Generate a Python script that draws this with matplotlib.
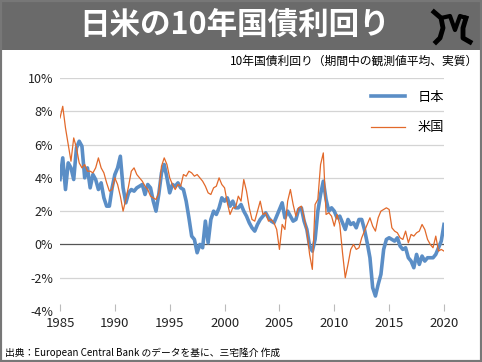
import numpy as np
import matplotlib
matplotlib.use('Agg')
import matplotlib.pyplot as plt
from matplotlib.patches import Rectangle

plt.rcParams['font.family'] = ['Noto Sans CJK JP', 'DejaVu Sans']

# 四半期ごとの読み取り値 (1985Q1〜2020Q1)
years = 1985 + np.arange(141) / 4

japan = [3.9, 5.2, 3.3, 4.9, 4.6, 3.9, 5.8, 6.2, 5.9, 4.0, 4.6, 3.4,
         4.2, 3.9, 3.3, 3.7, 2.8, 2.3, 2.3, 3.4, 4.2, 4.6, 5.3, 3.4,
         2.5, 3.1, 3.3, 3.2, 3.4, 3.5, 3.6, 3.0, 3.6, 3.4, 2.6, 2.0,
         3.0, 4.3, 4.8, 4.0, 3.1, 3.6, 3.5, 3.7, 3.4, 3.3, 2.6, 1.6,
         0.5, 0.3, -0.5, 0.0, -0.2, 1.4, 0.1, 1.5, 2.0, 1.8, 2.2, 2.8,
         2.6, 2.8, 2.3, 2.6, 2.2, 2.2, 2.4, 2.0, 1.7, 1.3, 1.0, 0.8,
         1.2, 1.5, 1.7, 1.9, 1.6, 1.4, 1.3, 1.7, 2.1, 2.5, 1.6, 2.0,
         1.7, 1.4, 1.5, 2.1, 2.2, 1.4, 0.9, -0.1, -0.4, 0.3, 2.0, 3.0,
         3.8, 2.7, 2.0, 2.2, 2.0, 1.6, 1.7, 1.3, 0.9, 1.5, 1.2, 1.3,
         1.0, 1.5, 1.5, 0.9, 0.1, -0.8, -2.6, -3.1, -2.4, -1.8, -0.3, 0.3,
         0.4, 0.3, 0.2, 0.4, -0.1, -0.3, -0.2, -0.8, -1.0, -1.4, -0.6, -1.2,
         -0.7, -1.0, -0.8, -0.8, -0.8, -0.6, -0.2, 0.2, 1.2]

usa = [7.6, 8.3, 7.0, 6.0, 5.0, 6.4, 5.8, 4.9, 4.6, 4.8, 4.4, 4.4,
       4.3, 4.6, 5.2, 4.6, 4.3, 3.7, 3.2, 3.3, 4.0, 3.6, 2.9, 2.0,
       2.7, 3.5, 4.4, 4.6, 4.2, 4.0, 3.8, 3.5, 3.3, 2.9, 2.8, 2.7,
       3.1, 4.7, 5.2, 4.8, 4.0, 3.6, 3.3, 3.6, 3.5, 4.2, 4.1, 4.4,
       4.3, 4.1, 4.2, 4.0, 3.8, 3.5, 3.1, 3.0, 3.4, 3.5, 4.0, 3.6,
       3.4, 2.5, 1.8, 2.2, 2.2, 2.9, 2.6, 3.9, 3.2, 2.2, 1.5, 1.4,
       2.0, 2.6, 1.8, 1.9, 1.4, 1.5, 1.3, 0.9, -0.3, 1.2, 0.9, 2.6,
       3.3, 2.4, 1.7, 2.2, 2.3, 1.6, 0.8, -0.6, -1.5, 2.4, 2.7, 4.8,
       5.5, 1.8, 1.9, 1.7, 1.1, 1.8, 1.2, -0.5, -2.0, -1.2, -0.3, 0.0,
       -0.3, -0.2, 0.4, 0.8, 1.2, 1.6, 1.1, 0.8, 1.6, 2.0, 2.1, 2.2,
       2.1, 1.0, 0.8, 0.7, 0.4, 0.3, 0.8, 0.1, 0.6, 0.5, 0.7, 0.8,
       1.2, 0.9, 0.3, 0.0, -0.2, 0.5, -0.4, -0.3, -0.4]

xticks = [1985, 1990, 1995, 2000, 2005, 2010, 2015, 2020]
yticks = [-4, -2, 0, 2, 4, 6, 8, 10]

W, H = 482, 362
fig = plt.figure(figsize=(W / 100, H / 100), dpi=100)

# タイトル帯
fig.patches.append(Rectangle((0, 1 - 50 / H), 1, 50 / H, transform=fig.transFigure,
                             facecolor='#6a6a6a', edgecolor='none', zorder=0))
fig.text(235 / W, 1 - 25 / H, '日米の10年国債利回り', color='white', fontsize=22,
         fontweight='bold', ha='center', va='center')
# ロゴ (簡易)
lx = lambda v: v / W
ly = lambda v: 1 - v / H
fig.lines.append(plt.Line2D([lx(434), lx(441), lx(443), lx(440), lx(436)],
                            [ly(12), ly(18), ly(28), ly(38), ly(42)],
                            transform=fig.transFigure, color='black', lw=3.5))
fig.lines.append(plt.Line2D([lx(441), lx(450), lx(455), lx(460), lx(466)],
                            [ly(18), ly(16), ly(30), ly(16), ly(18)],
                            transform=fig.transFigure, color='black', lw=3))
fig.lines.append(plt.Line2D([lx(466), lx(463), lx(463), lx(470)],
                            [ly(18), ly(28), ly(38), ly(42)],
                            transform=fig.transFigure, color='black', lw=3.5))

fig.text(478 / W, 1 - 61 / H, '10年国債利回り（期間中の観測値平均、実質）',
         fontsize=8.5, ha='right', va='center')
fig.text(5 / W, 1 - 353 / H, '出典：European Central Bank のデータを基に、三宅隆介 作成',
         fontsize=7, ha='left', va='center')

# 外枠
fig.patches.append(Rectangle((0, 0), 1, 1, transform=fig.transFigure, fill=False,
                             edgecolor='#777777', lw=3, zorder=5))

ax = fig.add_axes([60 / W, (H - 311) / H, 384 / W, 233 / H])
ax.plot(years, japan, color='#5b8ec6', lw=2.6, label='日本', solid_joinstyle='round')
ax.plot(years, usa, color='#e2692a', lw=0.9, label='米国')

ax.set_xlim(1985, 2020)
ax.set_ylim(-4, 10)
ax.set_xticks(xticks)
ax.set_yticks(yticks)
ax.set_yticklabels([f'{v}%' for v in yticks])
for v in yticks:
    if v == 0:
        ax.axhline(v, color='#555555', lw=0.9, zorder=0)
    elif v > -4:
        ax.axhline(v, color='#d4d4d4', lw=0.9, zorder=0)
for s in ax.spines.values():
    s.set_visible(False)
ax.tick_params(axis='y', length=0, labelsize=9, pad=5, colors='#222222')
ax.tick_params(axis='x', direction='in', length=5, color='#bbbbbb',
               labelsize=9.5, pad=4, labelcolor='#222222')

leg = ax.legend(loc='upper right', bbox_to_anchor=(1.03, 0.995), frameon=False,
                fontsize=9.5, handlelength=2.6, labelspacing=1.3, handletextpad=0.9)

fig.savefig('out.png', dpi=100)
